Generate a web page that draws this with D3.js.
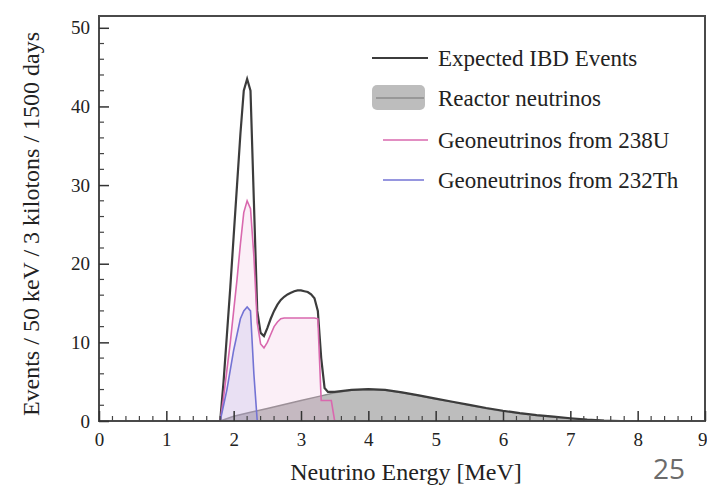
<!DOCTYPE html>
<html>
<head>
<meta charset="utf-8">
<script src="https://cdn.jsdelivr.net/npm/d3@7"></script>
<style>
  html, body { margin: 0; padding: 0; background: #fff; }
  svg { display: block; }
  text { font-family: "Liberation Serif", "DejaVu Serif", serif; fill: #222; }
</style>
</head>
<body>
<svg id="chart" width="707" height="486"></svg>
<script>
// Energy grid (MeV) for the geoneutrino region, 50 keV bins
const geoEnergy = [1.80,1.85,1.90,1.95,2.00,2.05,2.10,2.15,2.20,2.25,2.30,2.35,2.40,2.45,
                   2.50,2.55,2.60,2.65,2.70,2.75,2.80,2.85,2.90,2.95,3.00,3.05,3.10,3.15,
                   3.20,3.25,3.30,3.35,3.40,3.45,3.50];
// Geoneutrinos from 238U
const u238 =      [0,3.0,6.5,10.0,14.0,18.0,22.5,26.5,28.0,27.0,21.0,12.5,9.8,9.3,
                   10.0,11.0,12.0,12.6,13.0,13.1,13.1,13.1,13.1,13.1,13.1,13.1,13.1,13.1,
                   13.1,13.0,2.6,2.6,2.6,2.6,0];
// Geoneutrinos from 232Th
const th232 =     [0,2.0,4.0,6.5,9.0,11.0,13.0,14.0,14.5,14.0,6.0,0,0,0,
                   0,0,0,0,0,0,0,0,0,0,0,0,0,0,
                   0,0,0,0,0,0,0];
// Expected IBD events (total) on the same grid
const ibdTotal =  [0,5.0,11.0,17.0,23.5,30.0,36.5,42.0,43.5,42.0,28.0,14.0,11.2,10.8,
                   11.8,13.0,14.0,14.8,15.4,15.8,16.1,16.3,16.5,16.6,16.6,16.5,16.4,16.1,
                   15.6,14.0,8.0,4.2,3.7,3.7,3.7];
// Reactor antineutrino spectrum
const reactorEnergy = [1.80,2.00,2.25,2.50,2.75,3.00,3.25,3.50,3.75,4.00,4.25,4.50,4.75,
                       5.00,5.25,5.50,5.75,6.00,6.25,6.50,6.75,7.00,7.25,7.50,7.75];
const reactorRate =   [0,0.6,1.1,1.6,2.1,2.6,3.1,3.6,3.9,4.0,3.9,3.6,3.2,
                       2.8,2.4,2.0,1.6,1.25,0.95,0.7,0.5,0.3,0.15,0.05,0];
// Expected IBD events above the geoneutrino endpoint
const tailEnergy = [3.75,4.00,4.25,4.50,4.75,5.00,5.25,5.50,5.75,6.00,6.25,6.50,6.75,7.00,7.25,7.50,7.75];
const ibdTail =    [3.95,4.05,3.95,3.65,3.25,2.85,2.45,2.05,1.65,1.3,1.0,0.75,0.55,0.35,0.18,0.06,0];

const xTicks = [0,1,2,3,4,5,6,7,8,9];
const yTicks = [0,10,20,30,40,50];
const legendLabels = ["Expected IBD Events", "Reactor neutrinos",
                      "Geoneutrinos from 238U", "Geoneutrinos from 232Th"];

const svg = d3.select("#chart");
const x = d3.scaleLinear().domain([0, 9]).range([99, 705]);
const y = d3.scaleLinear().domain([0, 51.5]).range([421, 16]);

const pts = (xs, ys) => xs.map((e, i) => [e, ys[i]]);
const geoU  = [[0,0], ...pts(geoEnergy, u238), [9,0]];
const geoTh = [[0,0], ...pts(geoEnergy, th232), [9,0]];
const total = [[0,0], ...pts(geoEnergy, ibdTotal), ...pts(tailEnergy, ibdTail), [9,0]];
const reactor = pts(reactorEnergy, reactorRate);

const line = d3.line().x(d => x(d[0])).y(d => y(d[1]));
const area = d3.area().x(d => x(d[0])).y0(y(0)).y1(d => y(d[1]));

// reactor neutrinos, filled
svg.append("path").datum(reactor).attr("d", area)
  .attr("fill", "#bdbdbd").attr("stroke", "#8c8c8c").attr("stroke-width", 1.5);

// light fills under the geoneutrino spectra
svg.append("path").datum(geoU).attr("d", area).attr("fill", "#e7a6d0").attr("fill-opacity", 0.18);
svg.append("path").datum(geoTh).attr("d", area).attr("fill", "#9c9ce6").attr("fill-opacity", 0.18);

// total expected events
svg.append("path").datum(total).attr("d", line)
  .attr("fill", "none").attr("stroke", "#3c3c3c").attr("stroke-width", 2.2);
// geoneutrino components
svg.append("path").datum(geoU).attr("d", line)
  .attr("fill", "none").attr("stroke", "#d968ae").attr("stroke-width", 1.6);
svg.append("path").datum(geoTh).attr("d", line)
  .attr("fill", "none").attr("stroke", "#7373d4").attr("stroke-width", 1.6);

// frame
svg.append("rect").attr("x", x(0)).attr("y", y(51.5))
  .attr("width", x(9) - x(0)).attr("height", y(0) - y(51.5))
  .attr("fill", "none").attr("stroke", "#4a4a4a").attr("stroke-width", 2);

// bottom axis, ticks pointing inward
const xAxis = d3.axisBottom(x).tickValues(xTicks).tickSize(-10).tickPadding(23).tickFormat(d3.format("d"));
const gx = svg.append("g").attr("transform", `translate(0,${y(0)})`).call(xAxis);
gx.select(".domain").remove();
gx.selectAll(".tick line").attr("stroke", "#333").attr("stroke-width", 1.5);
gx.selectAll(".tick text").attr("font-size", 19).attr("fill", "#333")
  .attr("font-family", "Liberation Serif, serif").attr("dy", "0.1em")
  .attr("text-anchor", d => d === 9 ? "end" : "middle")
  .attr("x", d => d === 9 ? 2 : 0);
const xMinor = d3.range(0, 9.01, 0.2).filter(v => Math.abs(v - Math.round(v)) > 1e-6);
svg.append("g").selectAll("line").data(xMinor).join("line")
  .attr("x1", d => x(d)).attr("x2", d => x(d)).attr("y1", y(0)).attr("y2", y(0) - 5)
  .attr("stroke", "#444").attr("stroke-width", 1.2);

// left axis, ticks pointing inward
const yAxis = d3.axisLeft(y).tickValues(yTicks).tickSize(-10).tickPadding(20);
const gy = svg.append("g").attr("transform", `translate(${x(0)},0)`).call(yAxis);
gy.select(".domain").remove();
gy.selectAll(".tick line").attr("stroke", "#333").attr("stroke-width", 1.5);
gy.selectAll(".tick text").attr("font-size", 19).attr("fill", "#333")
  .attr("font-family", "Liberation Serif, serif").attr("x", -9);
const yMinor = d3.range(2, 51, 2).filter(v => v % 10 !== 0);
svg.append("g").selectAll("line").data(yMinor).join("line")
  .attr("x1", x(0)).attr("x2", x(0) + 5).attr("y1", d => y(d)).attr("y2", d => y(d))
  .attr("stroke", "#444").attr("stroke-width", 1.2);

// axis titles
svg.append("text").attr("x", 406).attr("y", 480).attr("text-anchor", "middle")
  .attr("font-size", 24).text("Neutrino Energy [MeV]");
svg.append("text").attr("transform", "translate(39,224) rotate(-90)")
  .attr("text-anchor", "middle").attr("font-size", 24)
  .text("Events / 50 keV / 3 kilotons / 1500 days");

// legend
const lg = svg.append("g");
const rowsY = [58, 98, 140, 180];
lg.append("line").attr("x1", 372).attr("x2", 428).attr("y1", rowsY[0]).attr("y2", rowsY[0])
  .attr("stroke", "#3c3c3c").attr("stroke-width", 2);
lg.append("rect").attr("x", 372).attr("y", 85).attr("width", 53).attr("height", 25).attr("rx", 5)
  .attr("fill", "#bdbdbd");
lg.append("line").attr("x1", 376).attr("x2", 424).attr("y1", rowsY[1]).attr("y2", rowsY[1])
  .attr("stroke", "#8c8c8c").attr("stroke-width", 1.5);
lg.append("line").attr("x1", 383).attr("x2", 428).attr("y1", rowsY[2]).attr("y2", rowsY[2])
  .attr("stroke", "#d968ae").attr("stroke-width", 1.6);
lg.append("line").attr("x1", 383).attr("x2", 424).attr("y1", rowsY[3]).attr("y2", rowsY[3])
  .attr("stroke", "#7373d4").attr("stroke-width", 1.6);
lg.selectAll("text.lab").data(legendLabels).join("text").attr("class", "lab")
  .attr("x", 438).attr("y", (d, i) => rowsY[i]).attr("dy", "0.35em")
  .attr("font-size", 23).text(d => d);

// page number
svg.append("text").attr("x", 653).attr("y", 479)
  .style("font-family", "'Open Sans', sans-serif")
  .attr("font-size", 28).style("fill", "#6b6b6b").text("25");
</script>
</body>
</html>
